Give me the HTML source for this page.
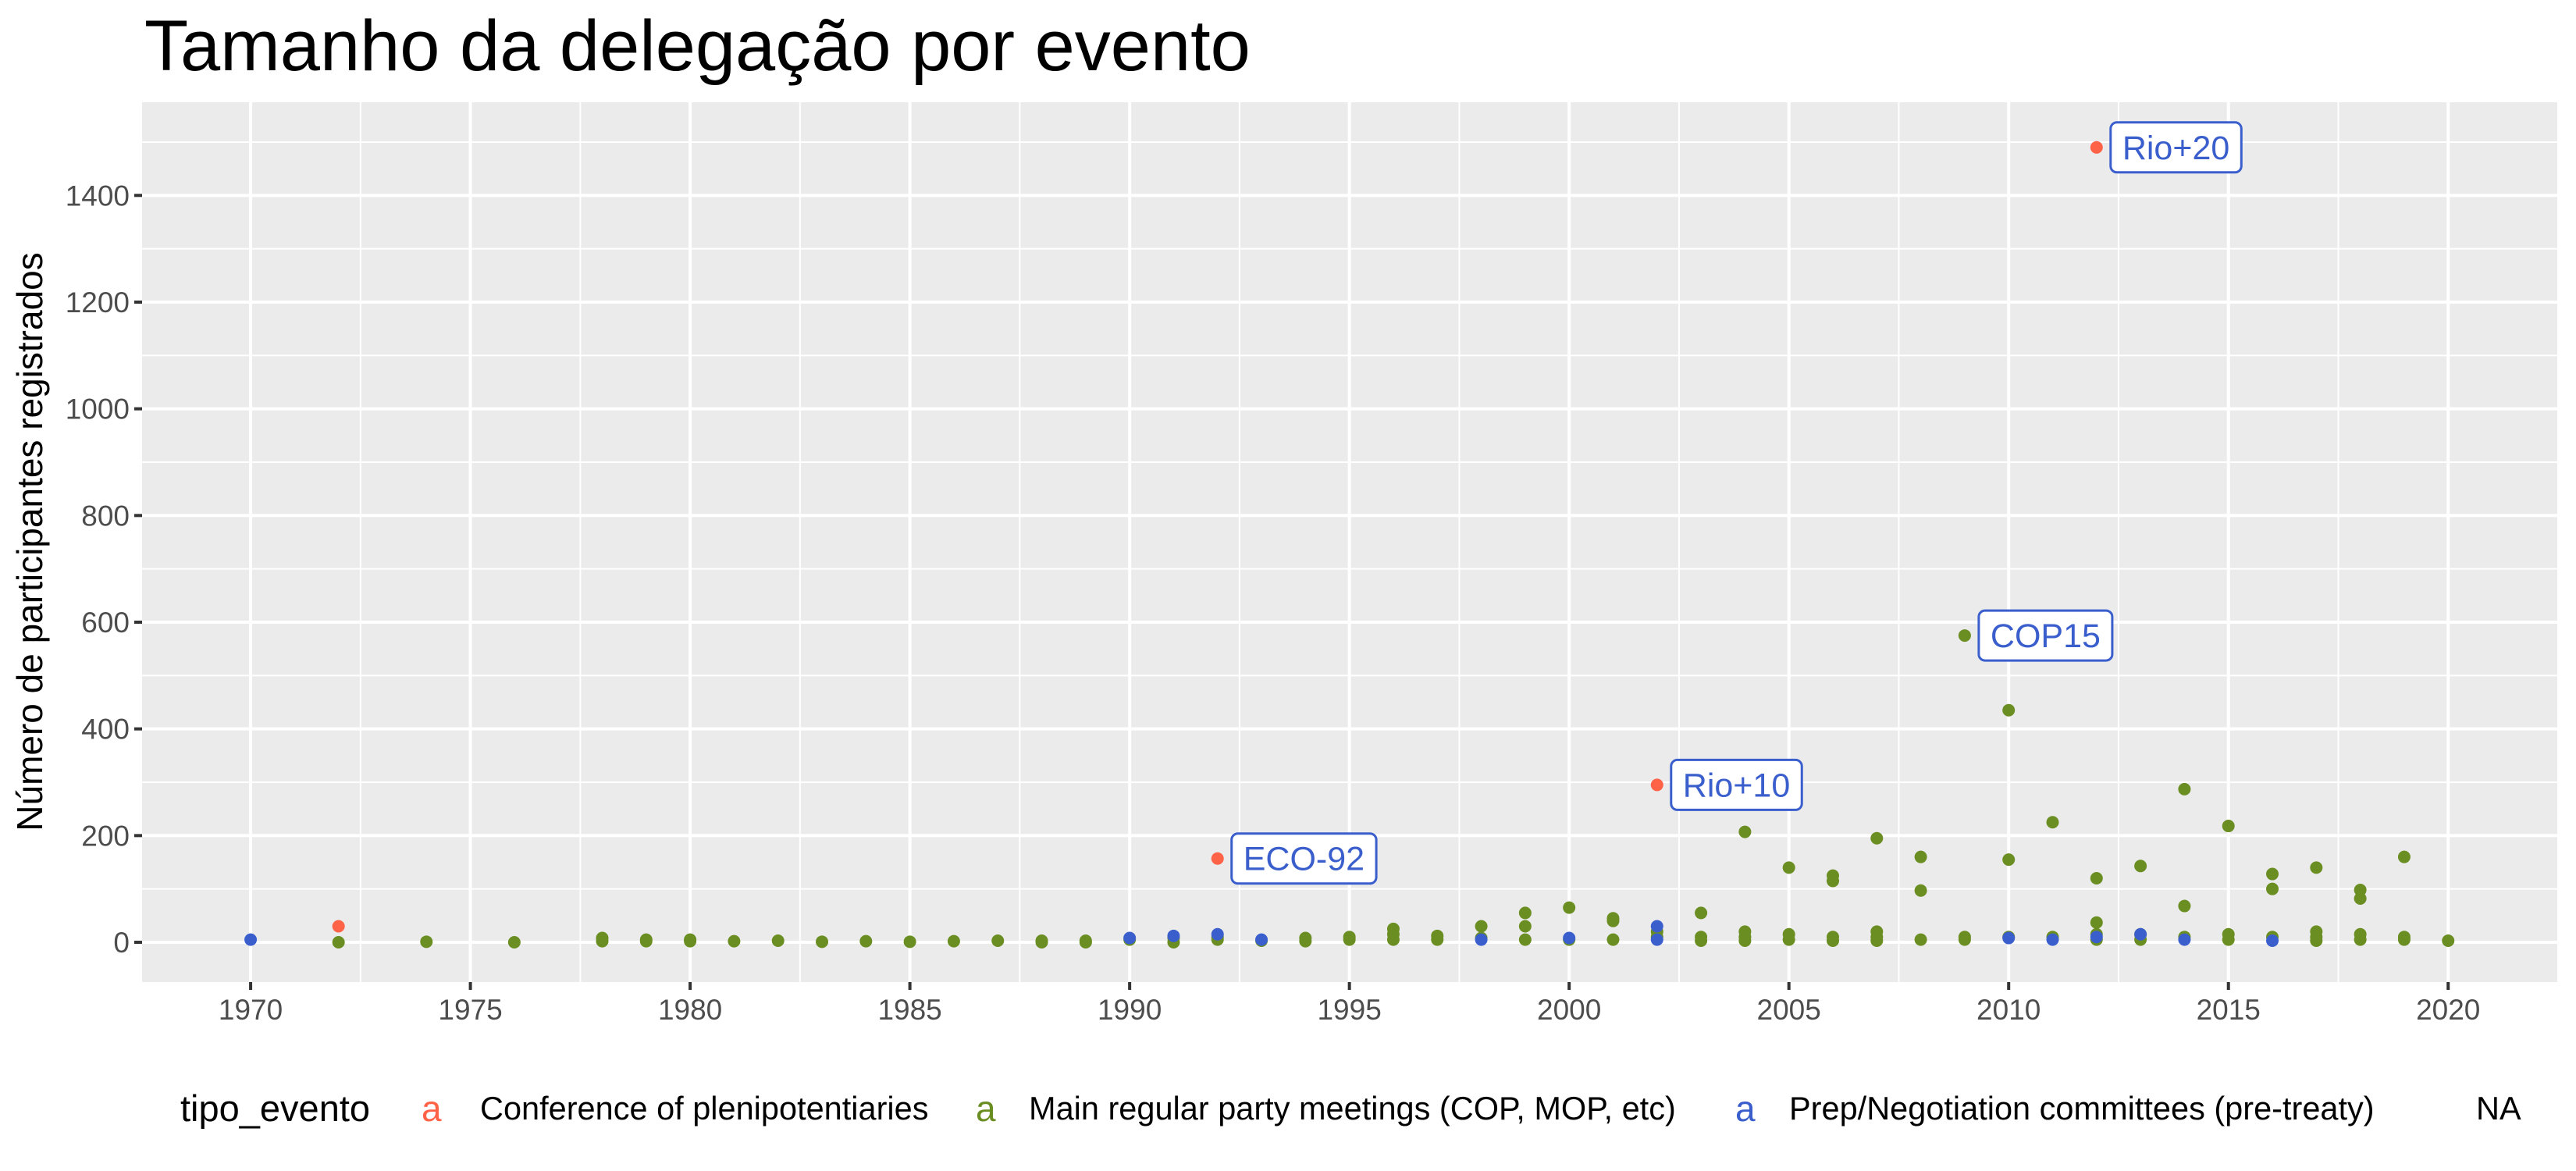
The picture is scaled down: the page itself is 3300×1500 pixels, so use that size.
<!DOCTYPE html>
<html><head><meta charset="utf-8">
<style>
html,body{margin:0;padding:0;background:#fff;}
svg{display:block;font-family:"Liberation Sans",Arial,sans-serif;}
</style></head>
<body>
<svg id="chart" width="3300" height="1500" viewBox="0 0 3300 1500" xmlns="http://www.w3.org/2000/svg">
<rect x="0" y="0" width="3300" height="1500" fill="#fff"/>
<text x="185" y="90" font-size="92" fill="#000">Tamanho da delegação por evento</text>
<rect x="182" y="131" width="3095" height="1127" fill="#ebebeb"/>
<g id="grid"></g>
<g id="axes"></g>
<g id="points"></g>
<g id="labels"></g>
<text transform="translate(54,694) rotate(-90)" text-anchor="middle" font-size="46" fill="#000">Número de participantes registrados</text>
<g>
<text x="231" y="1436" font-size="47" fill="#000">tipo_evento</text>
<text x="540" y="1436" font-size="46" fill="#ff6347">a</text>
<text x="615" y="1434" font-size="41.5" fill="#000">Conference of plenipotentiaries</text>
<text x="1250" y="1436" font-size="46" fill="#6b8e23">a</text>
<text x="1318" y="1434" font-size="41.5" fill="#000">Main regular party meetings (COP, MOP, etc)</text>
<text x="2223" y="1436" font-size="46" fill="#3a5fcd">a</text>
<text x="2292" y="1434" font-size="41.5" fill="#000">Prep/Negotiation committees (pre-treaty)</text>
<text x="3172" y="1434" font-size="41.5" fill="#000">NA</text>
</g>
</svg>
<script>
const xTicks = [1970,1975,1980,1985,1990,1995,2000,2005,2010,2015,2020];
const yTicks = [0,200,400,600,800,1000,1200,1400];
const confYears = [1972,1992,2002,2012];
const confValues = [30,157,295,1490];
const prepYears = [1970,1990,1991,1992,1993,1998,2000,2002,2002,2010,2011,2012,2013,2014,2016];
const prepValues = [5,8,12,15,5,5,8,30,5,8,5,10,15,5,3];
const mainYears = [1972,1974,1976,1978,1978,1979,1979,1980,1980,1981,1982,1983,1984,1985,1986,1987,1988,1988,1989,1989,1990,1991,1991,1992,1992,1993,1994,1994,1995,1995,1996,1996,1996,1997,1997,1998,1998,1999,1999,1999,2000,2000,2001,2001,2001,2002,2002,2003,2003,2003,2004,2004,2004,2004,2005,2005,2005,2006,2006,2006,2006,2007,2007,2007,2007,2008,2008,2008,2009,2009,2009,2010,2010,2010,2011,2011,2012,2012,2012,2012,2013,2013,2013,2014,2014,2014,2015,2015,2015,2016,2016,2016,2017,2017,2017,2017,2018,2018,2018,2018,2019,2019,2019,2020];
const mainValues = [0,1,0,8,2,5,2,5,2,2,3,1,2,1,2,3,3,0,3,0,5,8,0,10,5,3,8,2,10,5,25,15,5,12,5,30,8,55,30,5,65,5,45,40,5,20,10,55,10,3,207,20,10,3,140,15,5,125,115,10,3,195,20,10,3,160,97,5,575,10,5,435,155,10,225,10,120,37,15,5,143,15,5,287,68,10,218,15,5,128,100,10,140,20,10,3,98,82,15,5,160,10,5,3];
const labelNames = ["ECO-92","Rio+10","COP15","Rio+20"];
const labelYears = [1992,2002,2009,2012];
const labelValues = [157,295,575,1490];

const NS="http://www.w3.org/2000/svg";
const X0=1967.53, X1=2022.5, PL=182, PR=3277;
const Y0=-74.6, Y1=1574.6, PB=1258, PT=131;
function sx(v){return PL+(v-X0)/(X1-X0)*(PR-PL);}
function sy(v){return PB-(v-Y0)/(Y1-Y0)*(PB-PT);}
function mk(tag,attrs,parent){const e=document.createElementNS(NS,tag);for(const k in attrs)e.setAttribute(k,attrs[k]);parent.appendChild(e);return e;}

const grid=document.getElementById('grid');
const axes=document.getElementById('axes');
for(let i=0;i<yTicks.length;i++){
  const mv=yTicks[i]+100;
  const m=mk('line',{x1:PL,x2:PR,y1:sy(mv),y2:sy(mv),stroke:'#fff','stroke-width':2},grid);
  
  
}
for(let i=0;i<xTicks.length;i++){
  [xTicks[i]-2.5].concat(i===xTicks.length-1?[xTicks[i]+2.5]:[]).forEach(mv=>{
    const m=mk('line',{x1:sx(mv),x2:sx(mv),y1:PT,y2:PB,stroke:'#fff','stroke-width':2},grid);
    
    
  });
}
yTicks.forEach(v=>{
  const g=mk('line',{x1:PL,x2:PR,y1:sy(v),y2:sy(v),stroke:'#fff','stroke-width':4},grid);
  
  
  const t=mk('line',{x1:PL-10,x2:PL,y1:sy(v),y2:sy(v),stroke:'#333','stroke-width':4},axes);
  
  
  const l=mk('text',{x:PL-16,y:sy(v)+13,'text-anchor':'end','font-size':37,fill:'#4d4d4d'},axes);
  l.textContent=v;
  
  
});
xTicks.forEach(v=>{
  const g=mk('line',{x1:sx(v),x2:sx(v),y1:PT,y2:PB,stroke:'#fff','stroke-width':4},grid);
  
  
  const t=mk('line',{x1:sx(v),x2:sx(v),y1:PB,y2:PB+10,stroke:'#333','stroke-width':4},axes);
  
  
  const l=mk('text',{x:sx(v),y:PB+48,'text-anchor':'middle','font-size':37,fill:'#4d4d4d'},axes);
  l.textContent=v;
  
  
});

const pts=document.getElementById('points');
function drawSeries(xs,ys,color,name){
  for(let i=0;i<xs.length;i++){
    const c=mk('circle',{cx:sx(xs[i]),cy:sy(ys[i]),r:8,fill:color},pts);
    
    
  }
}
drawSeries(confYears,confValues,'#ff6347','point-conference');
drawSeries(mainYears,mainValues,'#6b8e23','point-main-meeting');
drawSeries(prepYears,prepValues,'#3a5fcd','point-prep-committee');

const lab=document.getElementById('labels');
for(let i=0;i<labelNames.length;i++){
  const px=sx(labelYears[i]), py=sy(labelValues[i]);
  const t=mk('text',{x:px+33,y:py+15,'font-size':43,fill:'#3a5fcd'},lab);
  t.textContent=labelNames[i];
  const w=t.getComputedTextLength();
  const r=mk('rect',{x:px+18,y:py-32,width:w+30,height:64,rx:8,fill:'#fff',stroke:'#3a5fcd','stroke-width':3},lab);
  lab.insertBefore(r,t);
  
  
  
  
}
</script>
</body></html>
